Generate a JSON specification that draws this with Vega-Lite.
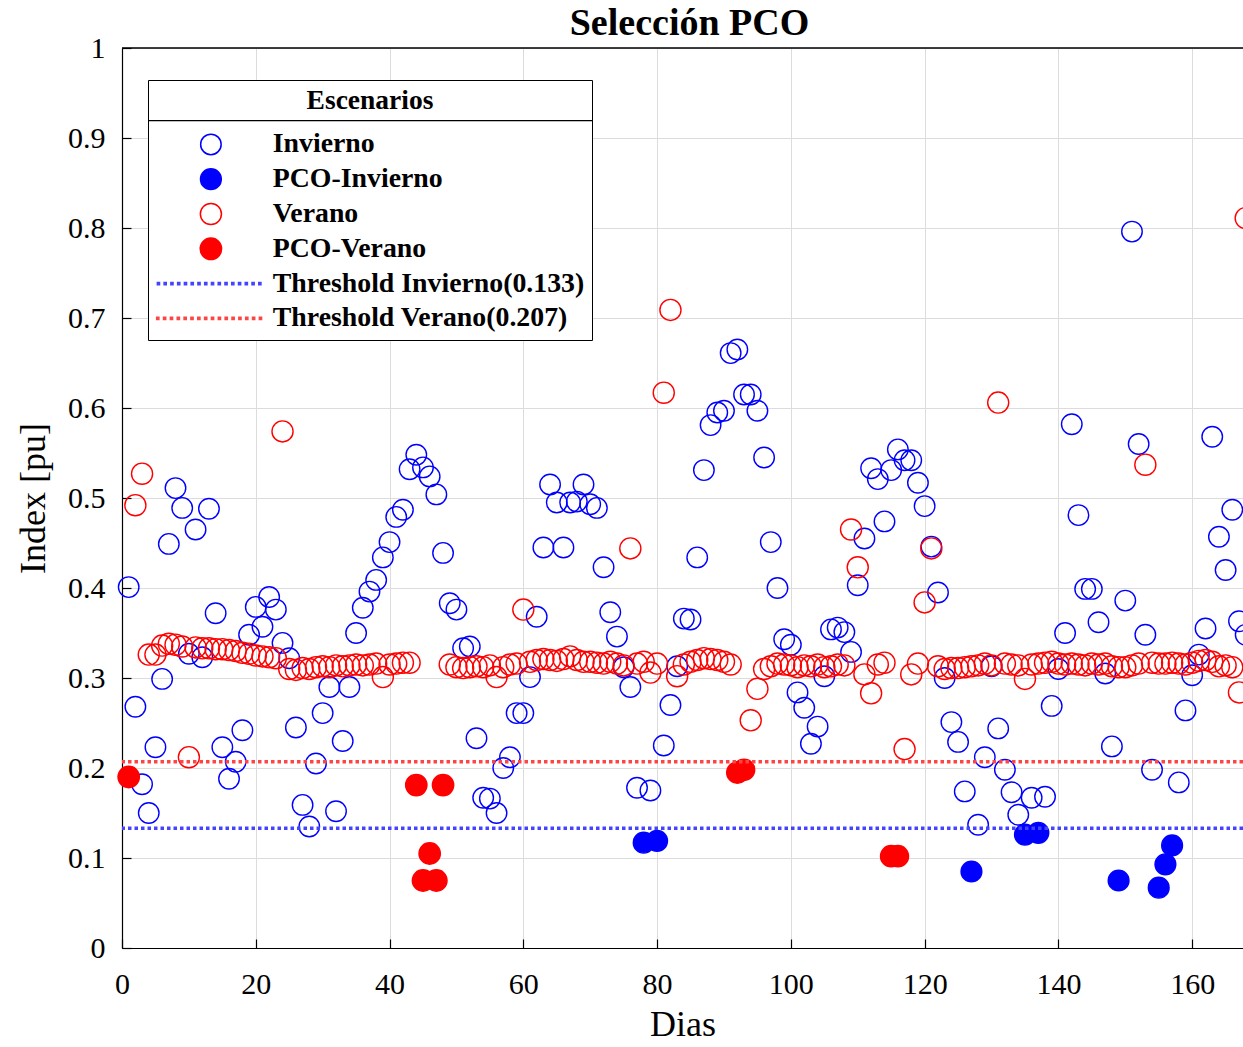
{
  "$schema": "https://vega.github.io/schema/vega-lite/v6.json",
  "width": 1121,
  "height": 900,
  "autosize": {"type": "none"},
  "padding": {"left": 122, "top": 48, "right": 0, "bottom": 99},
  "background": "white",
  "config": {
    "view": {"stroke": null},
    "font": "Liberation Serif",
    "axis": {
      "domainColor": "black", "domainWidth": 1.2,
      "tickColor": "black", "tickSize": -9, "tickWidth": 1.2,
      "gridColor": "#dcdcdc", "gridWidth": 1, "labelFlush": false,
      "labelFont": "Liberation Serif", "labelFontSize": 30, "labelColor": "black",
      "titleFont": "Liberation Serif", "titleFontSize": 36, "titleFontWeight": "normal", "titleColor": "black"
    },
    "legend": {
      "orient": "none",
      "titleFont": "Liberation Serif", "titleFontSize": 27.5, "titleFontWeight": "bold", "titleColor": "black", "titleAnchor": "middle", "titlePadding": 16,
      "labelFont": "Liberation Serif", "labelFontSize": 27.8, "labelFontWeight": "bold", "labelColor": "black", "labelLimit": 0,
      "strokeColor": "black", "fillColor": "white", "padding": 7,
      "symbolOffset": 42, "labelOffset": 48, "rowPadding": 5.8, "symbolOpacity": 1
    }
  },
  "title": {"text": "Selección PCO", "font": "Liberation Serif", "fontSize": 38, "fontWeight": "bold", "color": "black", "offset": 8, "dy": 18, "dx": 7},
  "datasets": {
    "puntos": [
      {"dia":1,"indice":0.401,"serie":"Invierno"},{"dia":2,"indice":0.268,"serie":"Invierno"},{"dia":3,"indice":0.182,"serie":"Invierno"},{"dia":4,"indice":0.150,"serie":"Invierno"},{"dia":5,"indice":0.223,"serie":"Invierno"},{"dia":6,"indice":0.299,"serie":"Invierno"},{"dia":7,"indice":0.449,"serie":"Invierno"},{"dia":8,"indice":0.511,"serie":"Invierno"},{"dia":9,"indice":0.489,"serie":"Invierno"},{"dia":10,"indice":0.327,"serie":"Invierno"},
      {"dia":11,"indice":0.465,"serie":"Invierno"},{"dia":12,"indice":0.323,"serie":"Invierno"},{"dia":13,"indice":0.488,"serie":"Invierno"},{"dia":14,"indice":0.372,"serie":"Invierno"},{"dia":15,"indice":0.223,"serie":"Invierno"},{"dia":16,"indice":0.188,"serie":"Invierno"},{"dia":17,"indice":0.207,"serie":"Invierno"},{"dia":18,"indice":0.242,"serie":"Invierno"},{"dia":19,"indice":0.348,"serie":"Invierno"},{"dia":20,"indice":0.379,"serie":"Invierno"},
      {"dia":21,"indice":0.357,"serie":"Invierno"},{"dia":22,"indice":0.390,"serie":"Invierno"},{"dia":23,"indice":0.376,"serie":"Invierno"},{"dia":24,"indice":0.339,"serie":"Invierno"},{"dia":25,"indice":0.322,"serie":"Invierno"},{"dia":26,"indice":0.245,"serie":"Invierno"},{"dia":27,"indice":0.159,"serie":"Invierno"},{"dia":28,"indice":0.135,"serie":"Invierno"},{"dia":29,"indice":0.205,"serie":"Invierno"},{"dia":30,"indice":0.261,"serie":"Invierno"},
      {"dia":31,"indice":0.290,"serie":"Invierno"},{"dia":32,"indice":0.152,"serie":"Invierno"},{"dia":33,"indice":0.230,"serie":"Invierno"},{"dia":34,"indice":0.290,"serie":"Invierno"},{"dia":35,"indice":0.350,"serie":"Invierno"},{"dia":36,"indice":0.378,"serie":"Invierno"},{"dia":37,"indice":0.396,"serie":"Invierno"},{"dia":38,"indice":0.409,"serie":"Invierno"},{"dia":39,"indice":0.434,"serie":"Invierno"},{"dia":40,"indice":0.451,"serie":"Invierno"},
      {"dia":41,"indice":0.479,"serie":"Invierno"},{"dia":42,"indice":0.487,"serie":"Invierno"},{"dia":43,"indice":0.532,"serie":"Invierno"},{"dia":44,"indice":0.548,"serie":"Invierno"},{"dia":45,"indice":0.534,"serie":"Invierno"},{"dia":46,"indice":0.524,"serie":"Invierno"},{"dia":47,"indice":0.504,"serie":"Invierno"},{"dia":48,"indice":0.439,"serie":"Invierno"},{"dia":49,"indice":0.383,"serie":"Invierno"},{"dia":50,"indice":0.376,"serie":"Invierno"},
      {"dia":51,"indice":0.333,"serie":"Invierno"},{"dia":52,"indice":0.335,"serie":"Invierno"},{"dia":53,"indice":0.233,"serie":"Invierno"},{"dia":54,"indice":0.167,"serie":"Invierno"},{"dia":55,"indice":0.166,"serie":"Invierno"},{"dia":56,"indice":0.150,"serie":"Invierno"},{"dia":57,"indice":0.200,"serie":"Invierno"},{"dia":58,"indice":0.212,"serie":"Invierno"},{"dia":59,"indice":0.261,"serie":"Invierno"},{"dia":60,"indice":0.261,"serie":"Invierno"},
      {"dia":61,"indice":0.301,"serie":"Invierno"},{"dia":62,"indice":0.368,"serie":"Invierno"},{"dia":63,"indice":0.445,"serie":"Invierno"},{"dia":64,"indice":0.515,"serie":"Invierno"},{"dia":65,"indice":0.495,"serie":"Invierno"},{"dia":66,"indice":0.445,"serie":"Invierno"},{"dia":67,"indice":0.495,"serie":"Invierno"},{"dia":68,"indice":0.496,"serie":"Invierno"},{"dia":69,"indice":0.515,"serie":"Invierno"},{"dia":70,"indice":0.493,"serie":"Invierno"},
      {"dia":71,"indice":0.489,"serie":"Invierno"},{"dia":72,"indice":0.423,"serie":"Invierno"},{"dia":73,"indice":0.373,"serie":"Invierno"},{"dia":74,"indice":0.346,"serie":"Invierno"},{"dia":75,"indice":0.312,"serie":"Invierno"},{"dia":76,"indice":0.290,"serie":"Invierno"},{"dia":77,"indice":0.178,"serie":"Invierno"},{"dia":78,"indice":0.117,"serie":"PCO-Invierno"},{"dia":79,"indice":0.175,"serie":"Invierno"},{"dia":80,"indice":0.119,"serie":"PCO-Invierno"},
      {"dia":81,"indice":0.225,"serie":"Invierno"},{"dia":82,"indice":0.270,"serie":"Invierno"},{"dia":83,"indice":0.313,"serie":"Invierno"},{"dia":84,"indice":0.366,"serie":"Invierno"},{"dia":85,"indice":0.365,"serie":"Invierno"},{"dia":86,"indice":0.434,"serie":"Invierno"},{"dia":87,"indice":0.531,"serie":"Invierno"},{"dia":88,"indice":0.581,"serie":"Invierno"},{"dia":89,"indice":0.595,"serie":"Invierno"},{"dia":90,"indice":0.597,"serie":"Invierno"},
      {"dia":91,"indice":0.661,"serie":"Invierno"},{"dia":92,"indice":0.665,"serie":"Invierno"},{"dia":93,"indice":0.615,"serie":"Invierno"},{"dia":94,"indice":0.615,"serie":"Invierno"},{"dia":95,"indice":0.597,"serie":"Invierno"},{"dia":96,"indice":0.545,"serie":"Invierno"},{"dia":97,"indice":0.451,"serie":"Invierno"},{"dia":98,"indice":0.400,"serie":"Invierno"},{"dia":99,"indice":0.343,"serie":"Invierno"},{"dia":100,"indice":0.337,"serie":"Invierno"},
      {"dia":101,"indice":0.284,"serie":"Invierno"},{"dia":102,"indice":0.267,"serie":"Invierno"},{"dia":103,"indice":0.227,"serie":"Invierno"},{"dia":104,"indice":0.246,"serie":"Invierno"},{"dia":105,"indice":0.302,"serie":"Invierno"},{"dia":106,"indice":0.354,"serie":"Invierno"},{"dia":107,"indice":0.356,"serie":"Invierno"},{"dia":108,"indice":0.351,"serie":"Invierno"},{"dia":109,"indice":0.329,"serie":"Invierno"},{"dia":110,"indice":0.403,"serie":"Invierno"},
      {"dia":111,"indice":0.455,"serie":"Invierno"},{"dia":112,"indice":0.533,"serie":"Invierno"},{"dia":113,"indice":0.521,"serie":"Invierno"},{"dia":114,"indice":0.474,"serie":"Invierno"},{"dia":115,"indice":0.531,"serie":"Invierno"},{"dia":116,"indice":0.554,"serie":"Invierno"},{"dia":117,"indice":0.542,"serie":"Invierno"},{"dia":118,"indice":0.542,"serie":"Invierno"},{"dia":119,"indice":0.517,"serie":"Invierno"},{"dia":120,"indice":0.491,"serie":"Invierno"},
      {"dia":121,"indice":0.446,"serie":"Invierno"},{"dia":122,"indice":0.395,"serie":"Invierno"},{"dia":123,"indice":0.300,"serie":"Invierno"},{"dia":124,"indice":0.251,"serie":"Invierno"},{"dia":125,"indice":0.229,"serie":"Invierno"},{"dia":126,"indice":0.174,"serie":"Invierno"},{"dia":127,"indice":0.085,"serie":"PCO-Invierno"},{"dia":128,"indice":0.137,"serie":"Invierno"},{"dia":129,"indice":0.212,"serie":"Invierno"},{"dia":130,"indice":0.313,"serie":"Invierno"},
      {"dia":131,"indice":0.244,"serie":"Invierno"},{"dia":132,"indice":0.198,"serie":"Invierno"},{"dia":133,"indice":0.173,"serie":"Invierno"},{"dia":134,"indice":0.148,"serie":"Invierno"},{"dia":135,"indice":0.126,"serie":"PCO-Invierno"},{"dia":136,"indice":0.167,"serie":"Invierno"},{"dia":137,"indice":0.128,"serie":"PCO-Invierno"},{"dia":138,"indice":0.168,"serie":"Invierno"},{"dia":139,"indice":0.269,"serie":"Invierno"},{"dia":140,"indice":0.310,"serie":"Invierno"},
      {"dia":141,"indice":0.350,"serie":"Invierno"},{"dia":142,"indice":0.582,"serie":"Invierno"},{"dia":143,"indice":0.481,"serie":"Invierno"},{"dia":144,"indice":0.399,"serie":"Invierno"},{"dia":145,"indice":0.399,"serie":"Invierno"},{"dia":146,"indice":0.362,"serie":"Invierno"},{"dia":147,"indice":0.305,"serie":"Invierno"},{"dia":148,"indice":0.224,"serie":"Invierno"},{"dia":149,"indice":0.075,"serie":"PCO-Invierno"},{"dia":150,"indice":0.386,"serie":"Invierno"},
      {"dia":151,"indice":0.796,"serie":"Invierno"},{"dia":152,"indice":0.560,"serie":"Invierno"},{"dia":153,"indice":0.348,"serie":"Invierno"},{"dia":154,"indice":0.198,"serie":"Invierno"},{"dia":155,"indice":0.067,"serie":"PCO-Invierno"},{"dia":156,"indice":0.093,"serie":"PCO-Invierno"},{"dia":157,"indice":0.114,"serie":"PCO-Invierno"},{"dia":158,"indice":0.184,"serie":"Invierno"},{"dia":159,"indice":0.264,"serie":"Invierno"},{"dia":160,"indice":0.303,"serie":"Invierno"},
      {"dia":161,"indice":0.326,"serie":"Invierno"},{"dia":162,"indice":0.355,"serie":"Invierno"},{"dia":163,"indice":0.568,"serie":"Invierno"},{"dia":164,"indice":0.457,"serie":"Invierno"},{"dia":165,"indice":0.420,"serie":"Invierno"},{"dia":166,"indice":0.487,"serie":"Invierno"},{"dia":167,"indice":0.363,"serie":"Invierno"},{"dia":168,"indice":0.348,"serie":"Invierno"},

      {"dia":1,"indice":0.190,"serie":"PCO-Verano"},{"dia":2,"indice":0.492,"serie":"Verano"},{"dia":3,"indice":0.527,"serie":"Verano"},{"dia":4,"indice":0.326,"serie":"Verano"},{"dia":5,"indice":0.326,"serie":"Verano"},{"dia":6,"indice":0.336,"serie":"Verano"},{"dia":7,"indice":0.338,"serie":"Verano"},{"dia":8,"indice":0.337,"serie":"Verano"},{"dia":9,"indice":0.335,"serie":"Verano"},{"dia":10,"indice":0.212,"serie":"Verano"},
      {"dia":11,"indice":0.334,"serie":"Verano"},{"dia":12,"indice":0.333,"serie":"Verano"},{"dia":13,"indice":0.333,"serie":"Verano"},{"dia":14,"indice":0.332,"serie":"Verano"},{"dia":15,"indice":0.332,"serie":"Verano"},{"dia":16,"indice":0.331,"serie":"Verano"},{"dia":17,"indice":0.330,"serie":"Verano"},{"dia":18,"indice":0.328,"serie":"Verano"},{"dia":19,"indice":0.327,"serie":"Verano"},{"dia":20,"indice":0.325,"serie":"Verano"},
      {"dia":21,"indice":0.324,"serie":"Verano"},{"dia":22,"indice":0.323,"serie":"Verano"},{"dia":23,"indice":0.322,"serie":"Verano"},{"dia":24,"indice":0.574,"serie":"Verano"},{"dia":25,"indice":0.310,"serie":"Verano"},{"dia":26,"indice":0.309,"serie":"Verano"},{"dia":27,"indice":0.311,"serie":"Verano"},{"dia":28,"indice":0.310,"serie":"Verano"},{"dia":29,"indice":0.312,"serie":"Verano"},{"dia":30,"indice":0.313,"serie":"Verano"},
      {"dia":31,"indice":0.312,"serie":"Verano"},{"dia":32,"indice":0.314,"serie":"Verano"},{"dia":33,"indice":0.313,"serie":"Verano"},{"dia":34,"indice":0.314,"serie":"Verano"},{"dia":35,"indice":0.315,"serie":"Verano"},{"dia":36,"indice":0.314,"serie":"Verano"},{"dia":37,"indice":0.315,"serie":"Verano"},{"dia":38,"indice":0.316,"serie":"Verano"},{"dia":39,"indice":0.301,"serie":"Verano"},{"dia":40,"indice":0.315,"serie":"Verano"},
      {"dia":41,"indice":0.316,"serie":"Verano"},{"dia":42,"indice":0.317,"serie":"Verano"},{"dia":43,"indice":0.317,"serie":"Verano"},{"dia":44,"indice":0.181,"serie":"PCO-Verano"},{"dia":45,"indice":0.075,"serie":"PCO-Verano"},{"dia":46,"indice":0.105,"serie":"PCO-Verano"},{"dia":47,"indice":0.075,"serie":"PCO-Verano"},{"dia":48,"indice":0.181,"serie":"PCO-Verano"},{"dia":49,"indice":0.315,"serie":"Verano"},{"dia":50,"indice":0.312,"serie":"Verano"},
      {"dia":51,"indice":0.311,"serie":"Verano"},{"dia":52,"indice":0.312,"serie":"Verano"},{"dia":53,"indice":0.313,"serie":"Verano"},{"dia":54,"indice":0.312,"serie":"Verano"},{"dia":55,"indice":0.314,"serie":"Verano"},{"dia":56,"indice":0.301,"serie":"Verano"},{"dia":57,"indice":0.312,"serie":"Verano"},{"dia":58,"indice":0.315,"serie":"Verano"},{"dia":59,"indice":0.316,"serie":"Verano"},{"dia":60,"indice":0.376,"serie":"Verano"},
      {"dia":61,"indice":0.318,"serie":"Verano"},{"dia":62,"indice":0.320,"serie":"Verano"},{"dia":63,"indice":0.321,"serie":"Verano"},{"dia":64,"indice":0.320,"serie":"Verano"},{"dia":65,"indice":0.319,"serie":"Verano"},{"dia":66,"indice":0.321,"serie":"Verano"},{"dia":67,"indice":0.324,"serie":"Verano"},{"dia":68,"indice":0.320,"serie":"Verano"},{"dia":69,"indice":0.318,"serie":"Verano"},{"dia":70,"indice":0.318,"serie":"Verano"},
      {"dia":71,"indice":0.317,"serie":"Verano"},{"dia":72,"indice":0.316,"serie":"Verano"},{"dia":73,"indice":0.318,"serie":"Verano"},{"dia":74,"indice":0.316,"serie":"Verano"},{"dia":75,"indice":0.314,"serie":"Verano"},{"dia":76,"indice":0.444,"serie":"Verano"},{"dia":77,"indice":0.316,"serie":"Verano"},{"dia":78,"indice":0.318,"serie":"Verano"},{"dia":79,"indice":0.306,"serie":"Verano"},{"dia":80,"indice":0.316,"serie":"Verano"},
      {"dia":81,"indice":0.617,"serie":"Verano"},{"dia":82,"indice":0.709,"serie":"Verano"},{"dia":83,"indice":0.302,"serie":"Verano"},{"dia":84,"indice":0.315,"serie":"Verano"},{"dia":85,"indice":0.318,"serie":"Verano"},{"dia":86,"indice":0.320,"serie":"Verano"},{"dia":87,"indice":0.322,"serie":"Verano"},{"dia":88,"indice":0.321,"serie":"Verano"},{"dia":89,"indice":0.320,"serie":"Verano"},{"dia":90,"indice":0.318,"serie":"Verano"},
      {"dia":91,"indice":0.315,"serie":"Verano"},{"dia":92,"indice":0.195,"serie":"PCO-Verano"},{"dia":93,"indice":0.198,"serie":"PCO-Verano"},{"dia":94,"indice":0.253,"serie":"Verano"},{"dia":95,"indice":0.288,"serie":"Verano"},{"dia":96,"indice":0.310,"serie":"Verano"},{"dia":97,"indice":0.313,"serie":"Verano"},{"dia":98,"indice":0.316,"serie":"Verano"},{"dia":99,"indice":0.315,"serie":"Verano"},{"dia":100,"indice":0.314,"serie":"Verano"},
      {"dia":101,"indice":0.312,"serie":"Verano"},{"dia":102,"indice":0.314,"serie":"Verano"},{"dia":103,"indice":0.313,"serie":"Verano"},{"dia":104,"indice":0.315,"serie":"Verano"},{"dia":105,"indice":0.312,"serie":"Verano"},{"dia":106,"indice":0.313,"serie":"Verano"},{"dia":107,"indice":0.315,"serie":"Verano"},{"dia":108,"indice":0.314,"serie":"Verano"},{"dia":109,"indice":0.465,"serie":"Verano"},{"dia":110,"indice":0.423,"serie":"Verano"},
      {"dia":111,"indice":0.304,"serie":"Verano"},{"dia":112,"indice":0.283,"serie":"Verano"},{"dia":113,"indice":0.315,"serie":"Verano"},{"dia":114,"indice":0.317,"serie":"Verano"},{"dia":115,"indice":0.102,"serie":"PCO-Verano"},{"dia":116,"indice":0.102,"serie":"PCO-Verano"},{"dia":117,"indice":0.221,"serie":"Verano"},{"dia":118,"indice":0.304,"serie":"Verano"},{"dia":119,"indice":0.316,"serie":"Verano"},{"dia":120,"indice":0.384,"serie":"Verano"},
      {"dia":121,"indice":0.444,"serie":"Verano"},{"dia":122,"indice":0.313,"serie":"Verano"},{"dia":123,"indice":0.310,"serie":"Verano"},{"dia":124,"indice":0.311,"serie":"Verano"},{"dia":125,"indice":0.311,"serie":"Verano"},{"dia":126,"indice":0.312,"serie":"Verano"},{"dia":127,"indice":0.313,"serie":"Verano"},{"dia":128,"indice":0.314,"serie":"Verano"},{"dia":129,"indice":0.316,"serie":"Verano"},{"dia":130,"indice":0.314,"serie":"Verano"},
      {"dia":131,"indice":0.606,"serie":"Verano"},{"dia":132,"indice":0.316,"serie":"Verano"},{"dia":133,"indice":0.315,"serie":"Verano"},{"dia":134,"indice":0.314,"serie":"Verano"},{"dia":135,"indice":0.299,"serie":"Verano"},{"dia":136,"indice":0.315,"serie":"Verano"},{"dia":137,"indice":0.316,"serie":"Verano"},{"dia":138,"indice":0.317,"serie":"Verano"},{"dia":139,"indice":0.318,"serie":"Verano"},{"dia":140,"indice":0.316,"serie":"Verano"},
      {"dia":141,"indice":0.315,"serie":"Verano"},{"dia":142,"indice":0.316,"serie":"Verano"},{"dia":143,"indice":0.315,"serie":"Verano"},{"dia":144,"indice":0.314,"serie":"Verano"},{"dia":145,"indice":0.316,"serie":"Verano"},{"dia":146,"indice":0.315,"serie":"Verano"},{"dia":147,"indice":0.316,"serie":"Verano"},{"dia":148,"indice":0.313,"serie":"Verano"},{"dia":149,"indice":0.312,"serie":"Verano"},{"dia":150,"indice":0.312,"serie":"Verano"},
      {"dia":151,"indice":0.314,"serie":"Verano"},{"dia":152,"indice":0.316,"serie":"Verano"},{"dia":153,"indice":0.537,"serie":"Verano"},{"dia":154,"indice":0.317,"serie":"Verano"},{"dia":155,"indice":0.316,"serie":"Verano"},{"dia":156,"indice":0.316,"serie":"Verano"},{"dia":157,"indice":0.317,"serie":"Verano"},{"dia":158,"indice":0.316,"serie":"Verano"},{"dia":159,"indice":0.315,"serie":"Verano"},{"dia":160,"indice":0.317,"serie":"Verano"},
      {"dia":161,"indice":0.319,"serie":"Verano"},{"dia":162,"indice":0.320,"serie":"Verano"},{"dia":163,"indice":0.318,"serie":"Verano"},{"dia":164,"indice":0.313,"serie":"Verano"},{"dia":165,"indice":0.314,"serie":"Verano"},{"dia":166,"indice":0.312,"serie":"Verano"},{"dia":167,"indice":0.284,"serie":"Verano"},{"dia":168,"indice":0.811,"serie":"Verano"}
    ],
    "umbrales": [
      {"indice": 0.133, "serie": "Threshold Invierno(0.133)"},
      {"indice": 0.207, "serie": "Threshold Verano(0.207)"}
    ]
  },
  "encoding": {
    "x": {
      "field": "dia", "type": "quantitative",
      "scale": {"domain": [0, 167.6], "nice": false, "zero": false},
      "axis": {"title": "Dias", "values": [0,20,40,60,80,100,120,140,160], "labelPadding": 30, "titlePadding": 8, "grid": true}
    },
    "y": {
      "field": "indice", "type": "quantitative",
      "scale": {"domain": [0, 1], "nice": false},
      "axis": {"title": "Index [pu]", "values": [0,0.1,0.2,0.3,0.4,0.5,0.6,0.7,0.8,0.9,1], "format": "~g", "labelPadding": 26, "titlePadding": 15, "grid": true}
    }
  },
  "layer": [
    {
      "data": {"name": "puntos"},
      "mark": {"type": "point", "filled": true, "strokeWidth": 1.4, "opacity": 1, "fillOpacity": 1, "strokeOpacity": 1},
      "encoding": {
        "stroke": {
          "field": "serie", "type": "nominal",
          "scale": {
            "domain": ["Invierno", "PCO-Invierno", "Verano", "PCO-Verano", "Threshold Invierno(0.133)", "Threshold Verano(0.207)"],
            "range": ["#0000ff", "#0000ff", "#ff0000", "#ff0000", "#4444ff", "#ff4444"]
          },
          "legend": {"title": "Escenarios", "legendX": 26, "legendY": 32, "zindex": 0, "symbolStrokeWidth": 1.5}
        },
        "fill": {
          "field": "serie", "type": "nominal",
          "scale": {
            "domain": ["Invierno", "PCO-Invierno", "Verano", "PCO-Verano", "Threshold Invierno(0.133)", "Threshold Verano(0.207)"],
            "range": ["transparent", "#0000ff", "transparent", "#ff0000", "#4444ff", "#ff4444"]
          },
          "legend": {"title": "Escenarios"}
        },
        "shape": {
          "field": "serie", "type": "nominal",
          "scale": {
            "domain": ["Invierno", "PCO-Invierno", "Verano", "PCO-Verano", "Threshold Invierno(0.133)", "Threshold Verano(0.207)"],
            "range": ["circle", "circle", "circle", "circle",
              "M-4.95,-0.1h0.2v0.2h-0.2zM-4.325,-0.1h0.2v0.2h-0.2zM-3.7,-0.1h0.2v0.2h-0.2zM-3.075,-0.1h0.2v0.2h-0.2zM-2.45,-0.1h0.2v0.2h-0.2zM-1.825,-0.1h0.2v0.2h-0.2zM-1.2,-0.1h0.2v0.2h-0.2zM-0.575,-0.1h0.2v0.2h-0.2zM0.05,-0.1h0.2v0.2h-0.2zM0.675,-0.1h0.2v0.2h-0.2zM1.3,-0.1h0.2v0.2h-0.2zM1.925,-0.1h0.2v0.2h-0.2zM2.55,-0.1h0.2v0.2h-0.2zM3.175,-0.1h0.2v0.2h-0.2zM3.8,-0.1h0.2v0.2h-0.2zM4.425,-0.1h0.2v0.2h-0.2z",
              "M-4.95,-0.1h0.2v0.2h-0.2zM-4.325,-0.1h0.2v0.2h-0.2zM-3.7,-0.1h0.2v0.2h-0.2zM-3.075,-0.1h0.2v0.2h-0.2zM-2.45,-0.1h0.2v0.2h-0.2zM-1.825,-0.1h0.2v0.2h-0.2zM-1.2,-0.1h0.2v0.2h-0.2zM-0.575,-0.1h0.2v0.2h-0.2zM0.05,-0.1h0.2v0.2h-0.2zM0.675,-0.1h0.2v0.2h-0.2zM1.3,-0.1h0.2v0.2h-0.2zM1.925,-0.1h0.2v0.2h-0.2zM2.55,-0.1h0.2v0.2h-0.2zM3.175,-0.1h0.2v0.2h-0.2zM3.8,-0.1h0.2v0.2h-0.2zM4.425,-0.1h0.2v0.2h-0.2z"]
          },
          "legend": {"title": "Escenarios"}
        },
        "size": {
          "field": "serie", "type": "nominal",
          "scale": {
            "domain": ["Invierno", "PCO-Invierno", "Verano", "PCO-Verano", "Threshold Invierno(0.133)", "Threshold Verano(0.207)"],
            "range": [420, 480, 420, 480, 420, 420]
          },
          "legend": {"title": "Escenarios"}
        }
      }
    },
    {
      "data": {"name": "umbrales"},
      "mark": {"type": "rule", "strokeWidth": 3.5, "strokeDash": [3.5, 3]},
      "encoding": {
        "x": null,
        "stroke": {"field": "serie", "type": "nominal"}
      }
    },
    {
      "data": {"name": "umbrales"},
      "mark": {"type": "rule", "strokeWidth": 1.2},
      "encoding": {
        "x": null,
        "y": {"datum": 1},
        "color": {
          "field": "indice", "type": "quantitative",
          "scale": {"domain": [0, 1], "range": ["black", "black"]},
          "legend": {
            "type": "gradient", "direction": "horizontal", "title": null,
            "legendX": 26, "legendY": 72, "zindex": 1,
            "gradientLength": 444, "gradientThickness": 1.2, "gradientStrokeWidth": 0, "gradientStrokeColor": "transparent",
            "labelOpacity": 0, "labelFontSize": 1, "tickCount": 2,
            "strokeColor": "transparent", "fillColor": "transparent", "padding": 0
          }
        }
      }
    }
  ]
}
